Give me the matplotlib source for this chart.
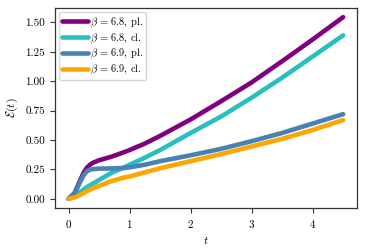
import matplotlib
matplotlib.use("Agg")
import matplotlib.pyplot as plt

plt.rcParams['font.family'] = 'serif'
plt.rcParams['font.serif'] = ['cmr10', 'DejaVu Serif']
plt.rcParams['mathtext.fontset'] = 'cm'
plt.rcParams['axes.formatter.use_mathtext'] = True
plt.rcParams['axes.unicode_minus'] = False

# data
t_68pl = [0, 0.1, 0.15, 0.2, 0.25, 0.3, 0.35, 0.4, 0.5, 0.6, 0.7, 0.9, 1.0, 1.25, 1.5, 2.0, 2.5, 3.0, 3.5, 4.0, 4.5]
e_68pl = [0, 0.05, 0.11, 0.17, 0.225, 0.265, 0.29, 0.307, 0.328, 0.343, 0.358, 0.395, 0.415, 0.47, 0.535, 0.675, 0.83, 0.99, 1.17, 1.355, 1.545]

t_68cl = [0, 0.1, 0.2, 0.3, 0.4, 0.5, 0.7, 0.9, 1.0, 1.25, 1.5, 2.0, 2.5, 3.0, 3.5, 4.0, 4.5]
e_68cl = [0, 0.025, 0.06, 0.10, 0.13, 0.16, 0.22, 0.265, 0.29, 0.35, 0.415, 0.56, 0.70, 0.86, 1.03, 1.21, 1.39]

t_69pl = [0, 0.1, 0.15, 0.2, 0.25, 0.3, 0.35, 0.4, 0.5, 0.7, 0.9, 1.0, 1.25, 1.5, 2.0, 2.5, 3.0, 3.5, 4.0, 4.5]
e_69pl = [0, 0.05, 0.10, 0.155, 0.205, 0.235, 0.248, 0.253, 0.257, 0.258, 0.262, 0.268, 0.29, 0.32, 0.37, 0.425, 0.49, 0.56, 0.64, 0.72]

t_69cl = [0, 0.1, 0.2, 0.3, 0.4, 0.5, 0.7, 0.9, 1.0, 1.25, 1.5, 2.0, 2.5, 3.0, 3.5, 4.0, 4.5]
e_69cl = [0, 0.012, 0.035, 0.065, 0.09, 0.11, 0.15, 0.18, 0.19, 0.225, 0.26, 0.32, 0.38, 0.445, 0.51, 0.585, 0.67]

labels = [r'$\beta\,=\,6.8$, pl.', r'$\beta\,=\,6.8$, cl.', r'$\beta\,=\,6.9$, pl.', r'$\beta\,=\,6.9$, cl.']
colors = ['#800080', '#2abfbf', '#4682b4', '#ffa500']

fig = plt.figure(figsize=(3.66, 2.52), dpi=100)
ax = fig.add_axes([0.150, 0.175, 0.825, 0.793])

series = [(t_68pl, e_68pl), (t_68cl, e_68cl), (t_69pl, e_69pl), (t_69cl, e_69cl)]
for (t, e), lab, c in zip(series, labels, colors):
    ax.plot(t, e, color=c, lw=3.3, label=lab, solid_capstyle='round', solid_joinstyle='round')

ax.set_xticks([0, 1, 2, 3, 4])
ax.set_yticks([0.0, 0.25, 0.5, 0.75, 1.0, 1.25, 1.5])
ax.set_yticklabels(['0.00', '0.25', '0.50', '0.75', '1.00', '1.25', '1.50'])
ax.tick_params(labelsize=8, length=3.5, width=0.8, color='#333333')
for s in ax.spines.values():
    s.set_color('#333333')
    s.set_linewidth(0.9)
ax.set_xlabel(r'$t$', fontsize=8.5)
ax.set_ylabel(r'$\mathcal{E}(t)$', fontsize=8.5)

leg = ax.legend(loc='upper left', fontsize=7.5, handlelength=2.5, handletextpad=0.15,
                borderpad=0.3, labelspacing=0.15, borderaxespad=0.4, fancybox=True)
leg.get_frame().set_edgecolor('#cccccc')

fig.savefig('out.png', dpi=100)
